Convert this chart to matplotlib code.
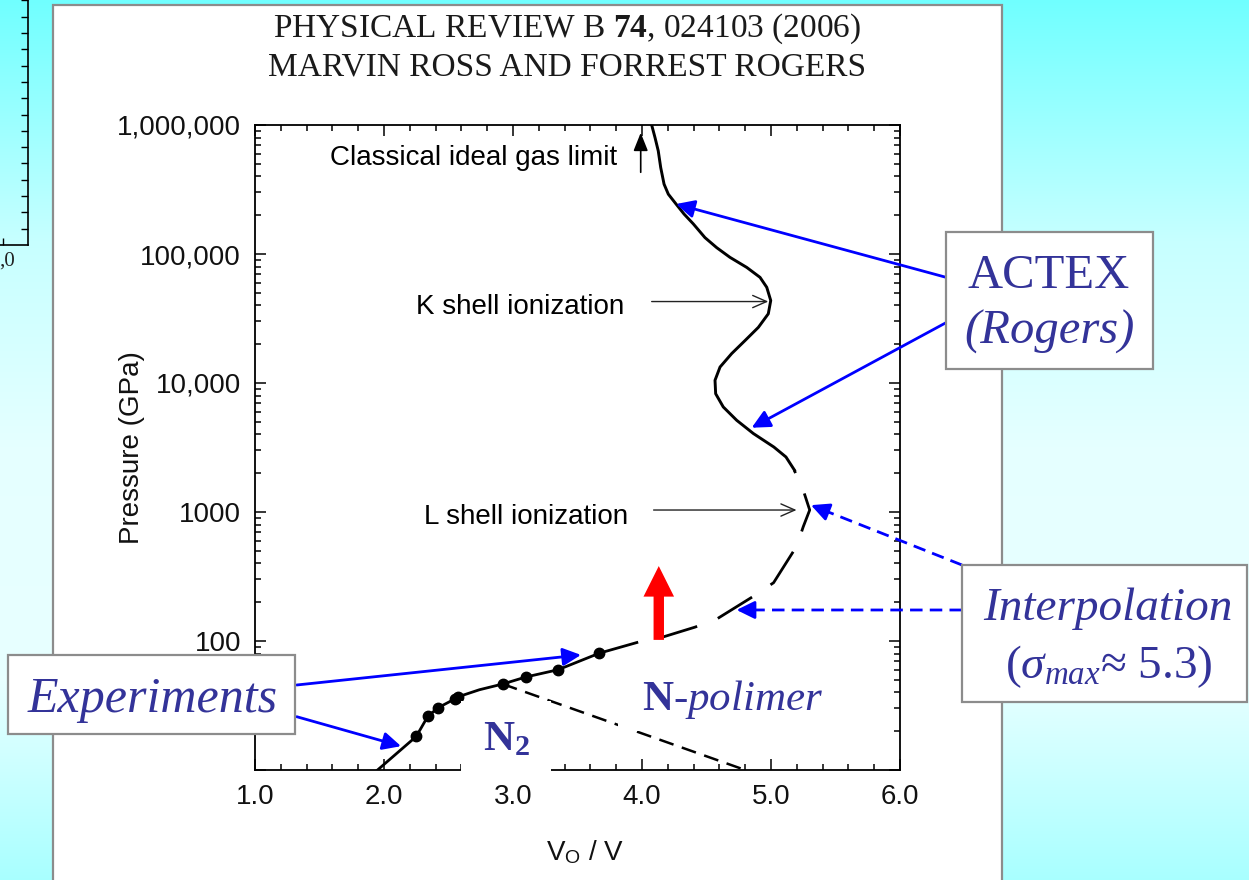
import matplotlib.pyplot as plt
import numpy as np
from matplotlib.patches import Rectangle
from matplotlib.ticker import (FixedFormatter, FixedLocator, FormatStrFormatter,
                               LogLocator, MultipleLocator, NullFormatter)

plt.rcParams['font.family'] = ['Liberation Sans', 'DejaVu Sans']
plt.rcParams['mathtext.fontset'] = 'custom'
plt.rcParams['mathtext.rm'] = 'Liberation Sans'
plt.rcParams['mathtext.it'] = 'Liberation Serif:italic'
plt.rcParams['mathtext.bf'] = 'Liberation Serif:bold'

# shock experiments on nitrogen: compression V0/V and pressure (GPa)
exp_x = [2.25, 2.34, 2.42, 2.55, 2.57, 2.92, 3.10, 3.35, 3.67]
exp_p = [18.2, 26.1, 30.4, 35.6, 36.8, 46.4, 52.6, 59.9, 80.5]

# curve through the experiments
fit_x = [1.95, 2.25, 2.34, 2.42, 2.55, 2.57, 2.74, 2.92, 3.10, 3.35, 3.67, 3.96]
fit_p = [10, 18.2, 26.1, 30.4, 35.6, 36.8, 41.9, 46.4, 52.6, 59.9, 80.5, 97.3]

# interpolation up to the ACTEX branch
interp_x = [3.96, 4.17, 4.41, 4.57, 4.86, 5.02, 5.20, 5.25, 5.30, 5.25, 5.18]
interp_p = [97.3, 108, 128, 146, 221, 283, 545, 769, 1036, 1476, 2110]

# ACTEX hugoniot
actex_x = [4.075, 4.101, 4.126, 4.145, 4.171, 4.204, 4.264, 4.326, 4.398, 4.488,
           4.579, 4.682, 4.812, 4.915, 4.967, 4.998, 4.979, 4.902, 4.798, 4.695,
           4.605, 4.566, 4.571, 4.630, 4.734, 4.863, 5.022, 5.116, 5.182]
actex_p = [1.0e6, 7.98e5, 6.30e5, 4.68e5, 3.48e5, 2.91e5, 2.44e5, 2.04e5, 1.71e5, 1.34e5,
           1.12e5, 9.42e4, 7.87e4, 6.59e4, 5.52e4, 4.36e4, 3.44e4, 2.70e4, 2.13e4, 1.69e4,
           1.33e4, 1.05e4, 8260, 6520, 5140, 4060, 3190, 2670, 2110]

# N2 / polymer boundary
bound_x = [2.92, 4.80]
bound_p = [46.4, 10]

y_ticks = [10, 100, 1000, 1e4, 1e5, 1e6]
y_labels = ['', '100', '1000', '10,000', '100,000', '1,000,000']

W, H = 1249, 880
fig = plt.figure(figsize=(W / 100, H / 100), dpi=100)

# slide background
bg = fig.add_axes([0, 0, 1, 1], zorder=0)
rows = np.arange(H)
red = np.interp(rows, [0, 240, 450, 680, 880], [0.44, 0.78, 0.90, 0.91, 0.66])
grad = np.stack([red, np.ones(H), np.ones(H)], axis=1).reshape(H, 1, 3)
bg.imshow(grad, extent=(0, W, H, 0), aspect='auto')
bg.set_xlim(0, W)
bg.set_ylim(H, 0)
bg.axis('off')
bg.add_patch(Rectangle((53, 5), 949, 900, facecolor='white', edgecolor='#8c8c8c', lw=1.6))

# piece of the neighbouring chart at the left edge
side = fig.add_axes([-0.05, 1 - 245 / H, 28 / W + 0.05, 245 / H], zorder=1)
side.patch.set_visible(False)
side.set_xlim(-0.05 * W, 28)
side.set_ylim(0, 245 / 16.3)
for s in ['left', 'top']:
    side.spines[s].set_visible(False)
for s in ['right', 'bottom']:
    side.spines[s].set_linewidth(1.2)
side.yaxis.tick_right()
side.set_yticks(np.arange(1, 16))
side.set_xticks([2.7])
side.tick_params(direction='in', length=5, width=1, labelright=False, labelbottom=False)

# main chart
ax = fig.add_axes([255 / W, 1 - 770 / H, 645 / W, 645 / H], zorder=2)
ax.set_yscale('log')
ax.set_xlim(1, 6)
ax.set_ylim(10, 1e6)

ax.plot(fit_x, fit_p, color='black', lw=2.0, zorder=3)
ax.plot(exp_x, exp_p, 'o', color='black', ms=7.5, zorder=4)
ax.plot(interp_x, interp_p, color='black', lw=2.0, ls=(14.5, (14.5, 8)), zorder=3)
ax.plot(actex_x, actex_p, color='black', lw=2.1, zorder=3, solid_joinstyle='round')
ax.plot(bound_x, bound_p, color='black', lw=1.8, ls=(0, (6, 3.5)), zorder=3)

ax.xaxis.set_major_locator(MultipleLocator(1))
ax.xaxis.set_minor_locator(MultipleLocator(0.2))
ax.xaxis.set_major_formatter(FormatStrFormatter('%.1f'))
ax.yaxis.set_major_locator(FixedLocator(y_ticks))
ax.yaxis.set_major_formatter(FixedFormatter(y_labels))
ax.yaxis.set_minor_locator(LogLocator(base=10, subs=range(2, 10)))
ax.yaxis.set_minor_formatter(NullFormatter())
ax.tick_params(which='both', direction='in', top=True, right=True, width=1.1,
               labelsize=20, labelcolor='#111111', pad=10)
ax.tick_params(which='major', length=8)
ax.tick_params(which='minor', length=4)
for s in ax.spines.values():
    s.set_linewidth(1.3)

ax.set_ylabel('Pressure (GPa)', fontsize=20, color='#111111')
ax.yaxis.set_label_coords(-0.1705, 0.5)
ax.set_xlabel(r'V$_\mathrm{O}$ / V', fontsize=20, color='#111111')
ax.xaxis.set_label_coords(0.512, -0.105)

# labels inside the chart
ax.text(3.806, 4.9e5, 'Classical ideal gas limit', fontsize=20, ha='right', va='baseline')
ax.annotate('', xy=(3.99, 8.7e5), xytext=(3.99, 4.3e5),
            arrowprops=dict(arrowstyle='-|>,head_length=0.55,head_width=0.22',
                            mutation_scale=20, color='black', lw=1.2,
                            shrinkA=0, shrinkB=0))
ax.text(2.248, 3.44e4, 'K shell ionization', fontsize=20, ha='left', va='baseline')
ax.annotate('', xy=(4.979, 4.28e4), xytext=(4.075, 4.28e4),
            arrowprops=dict(arrowstyle='->,head_length=0.5,head_width=0.22',
                            mutation_scale=20, color='#222222', lw=1.0,
                            shrinkA=0, shrinkB=0))
ax.text(2.31, 805, 'L shell ionization', fontsize=20, ha='left', va='baseline')
ax.annotate('', xy=(5.198, 1036), xytext=(4.09, 1036),
            arrowprops=dict(arrowstyle='->,head_length=0.5,head_width=0.22',
                            mutation_scale=20, color='#222222', lw=1.0,
                            shrinkA=0, shrinkB=0))

# pressure increase marker
ax.annotate('', xy=(4.13, 381), xytext=(4.13, 102),
            arrowprops=dict(arrowstyle='simple,head_length=22,head_width=22,tail_width=7.5',
                            mutation_scale=1, color='#ff0000', lw=0,
                            shrinkA=0, shrinkB=0), zorder=5)

# overlay in pixel units for the slide call-outs
ov = fig.add_axes([0, 0, 1, 1], zorder=3)
ov.set_xlim(0, W)
ov.set_ylim(H, 0)
ov.axis('off')

navy = '#333399'
blue = '#0000ff'
serif = ['Liberation Serif', 'DejaVu Serif']

ov.text(567, 37, r'PHYSICAL REVIEW B $\mathbf{74}$, 024103 (2006)', family=serif,
        fontsize=24, ha='center', va='baseline', color='#1a1a1a')
ov.text(567, 75, 'MARVIN ROSS AND FORREST ROGERS', family=serif,
        fontsize=24, ha='center', va='baseline', color='#1a1a1a')
ov.text(7, 261, ',0', family=serif, fontsize=15, ha='center', va='center', color='#222222')


def to_px(pt):
    return ov.transData.inverted().transform(ax.transData.transform(pt))


def call_out(start, tip, dashed=False):
    tip = to_px(tip)
    start = np.asarray(start, float)
    d = tip - start
    d /= np.hypot(*d)
    head_start = tip - d * 16
    if dashed:
        ov.plot([start[0], head_start[0]], [start[1], head_start[1]], color=blue,
                lw=2.0, ls=(0, (4.5, 2.6)), solid_capstyle='butt')
        tail = head_start
    else:
        tail = start
    ov.annotate('', xy=tip, xytext=tail,
                arrowprops=dict(arrowstyle='-|>,head_length=0.55,head_width=0.27',
                                mutation_scale=20, color=blue, lw=2.0,
                                shrinkA=0, shrinkB=0))


call_out((946, 277.3), (4.264, 2.44e5))
call_out((946, 322.7), (4.85, 4500))
call_out((296.7, 685), (3.527, 78))
call_out((296.7, 716.7), (2.132, 15.3))
call_out((962, 565), (5.31, 1130), dashed=True)
call_out((962, 610), (4.733, 174), dashed=True)

box = dict(facecolor='white', edgecolor='#8c8c8c', lw=1.6, zorder=4)
ov.add_patch(Rectangle((946, 232), 207, 137, **box))
ov.add_patch(Rectangle((962, 565), 285, 137, **box))
ov.add_patch(Rectangle((8, 655), 287, 79, **box))
ov.add_patch(Rectangle((461, 701), 90, 72, facecolor='white', edgecolor='none', zorder=4))
ov.add_patch(Rectangle((618, 658), 220, 73, facecolor='white', edgecolor='none', zorder=4))

ov.text(1049, 288, 'ACTEX', family=serif, fontsize=35, color=navy,
        ha='center', va='baseline', zorder=5)
ov.text(1049, 344, '(Rogers)', family=serif, fontsize=35, style='italic', color=navy,
        ha='center', va='baseline', zorder=5)
ov.text(1108, 620, 'Interpolation', family=serif, fontsize=34, style='italic', color=navy,
        ha='center', va='baseline', zorder=5)
ov.text(1109, 678, r'($\sigma_{max}$≈ 5.3)', family=serif, fontsize=34, color=navy,
        ha='center', va='baseline', zorder=5)
ov.text(152.5, 711.7, 'Experiments', family=serif, fontsize=36, style='italic', color=navy,
        ha='center', va='baseline', zorder=5)
ov.text(483, 750, r'$\mathbf{N_2}$', family=serif, fontsize=31, color=navy,
        ha='left', va='baseline', zorder=5)
ov.text(641.7, 710, r'$\mathbf{N}$-polimer', family=serif, fontsize=31, style='italic',
        color=navy, ha='left', va='baseline', zorder=5)

fig.savefig('out.png', dpi=100)
